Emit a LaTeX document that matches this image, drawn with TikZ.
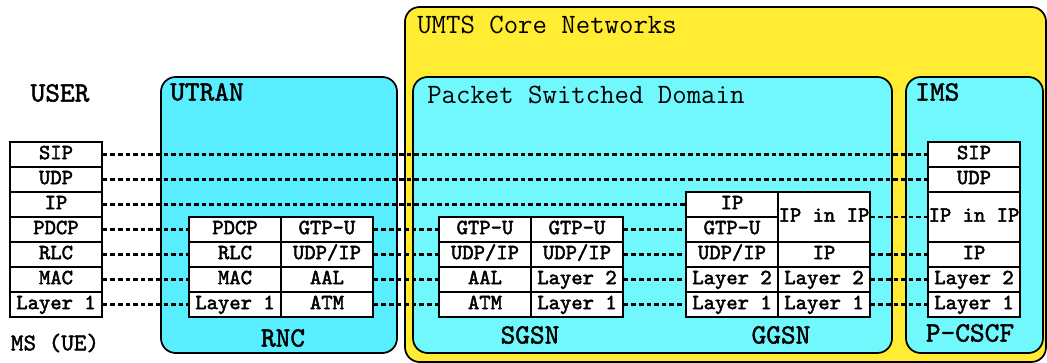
\documentclass[tikz,border=0pt]{standalone}
\usepackage{fontspec}
\usepackage{xcolor}
\usepackage{tikz}

\newfontfamily\stackfont{lmmono10-regular.otf}[FakeBold=2.2]
\newfontfamily\labelfont{lmmono10-regular.otf}[FakeBold=1.6]

\definecolor{umtsyellow}{RGB}{255,236,51}
\definecolor{utrancyan}{RGB}{88,238,255}
\definecolor{corecyan}{RGB}{112,248,252}

\begin{document}
\begin{tikzpicture}[
				x=0.75pt, y=-0.75pt,
				font=\ttfamily,
				region/.style={
					draw=black, line width=1.3pt, rounded corners=11pt
				},
				cell/.style={
					rectangle, draw=black, fill=white, line width=1.3pt,
					minimum width=69pt, minimum height=18.75pt, inner sep=0pt,
					text height=9.5pt, text depth=2.5pt,
					font=\fontsize{16.2}{17}\selectfont\stackfont
				},
				twocell/.style={cell, minimum height=37.5pt},
				title/.style={anchor=west, inner sep=0pt, font=\fontsize{21}{23}\selectfont\ttfamily},
				boxlbl/.style={title, font=\fontsize{21}{23}\selectfont\labelfont},
				nodelbl/.style={inner sep=0pt, font=\fontsize{21}{23}\selectfont\labelfont},
				link/.style={line width=1.7pt, dash pattern=on 3.4pt off 2.3pt}
				]
				\useasboundingbox (0,0) rectangle (1047,363);
				
				\draw[region, fill=umtsyellow] (405,7) rectangle (1046,362);
				\draw[region, fill=utrancyan] (161,77) rectangle (397,353);
				\draw[region, fill=corecyan] (413,77) rectangle (892,353);
				\draw[region, fill=corecyan] (906,77) rectangle (1043,353);
				
				\node[title] (umts) at (417,25) {UMTS Core Networks};
				\node[title] (psd) at (427,95) {Packet Switched Domain};
				\node[boxlbl] (utran) at (170,92) {UTRAN};
				\node[boxlbl] (ims) at (915,92) {IMS};
				\node[nodelbl] (user) at (60,93) {USER};
				
				\node[cell] (ms1) at (56,154.5) {SIP};
				\node[cell] (ms2) at (56,179.5) {UDP};
				\node[cell] (ms3) at (56,204.5) {IP};
				\node[cell] (ms4) at (56,229.5) {PDCP};
				\node[cell] (ms5) at (56,254.5) {RLC};
				\node[cell] (ms6) at (56,279.5) {MAC};
				\node[cell] (ms7) at (56,304.5) {Layer 1};
				\node[nodelbl, font=\fontsize{18}{19}\selectfont\labelfont] (ue) at (55,343) {MS (UE)};
				
				\node[cell] (rnl1) at (235,229.5) {PDCP};
				\node[cell] (rnl2) at (235,254.5) {RLC};
				\node[cell] (rnl3) at (235,279.5) {MAC};
				\node[cell] (rnl4) at (235,304.5) {Layer 1};
				\node[cell] (rnr1) at (327,229.5) {GTP-U};
				\node[cell] (rnr2) at (327,254.5) {UDP/IP};
				\node[cell] (rnr3) at (327,279.5) {AAL};
				\node[cell] (rnr4) at (327,304.5) {ATM};
				\node[nodelbl] (rnc) at (283,338) {RNC};
				
				\node[cell] (sgl1) at (485,229.5) {GTP-U};
				\node[cell] (sgl2) at (485,254.5) {UDP/IP};
				\node[cell] (sgl3) at (485,279.5) {AAL};
				\node[cell] (sgl4) at (485,304.5) {ATM};
				\node[cell] (sgr1) at (577,229.5) {GTP-U};
				\node[cell] (sgr2) at (577,254.5) {UDP/IP};
				\node[cell] (sgr3) at (577,279.5) {Layer 2};
				\node[cell] (sgr4) at (577,304.5) {Layer 1};
				\node[nodelbl] (sgsn) at (530,335) {SGSN};
				
				\node[cell] (ggl1) at (732,204.5) {IP};
				\node[cell] (ggl2) at (732,229.5) {GTP-U};
				\node[cell] (ggl3) at (732,254.5) {UDP/IP};
				\node[cell] (ggl4) at (732,279.5) {Layer 2};
				\node[cell] (ggl5) at (732,304.5) {Layer 1};
				\node[twocell] (ggr1) at (824,217) {IP in IP};
				\node[cell] (ggr2) at (824,254.5) {IP};
				\node[cell] (ggr3) at (824,279.5) {Layer 2};
				\node[cell] (ggr4) at (824,304.5) {Layer 1};
				\node[nodelbl] (ggsn) at (781,335) {GGSN};
				
				\node[cell] (pc1) at (974,154.5) {SIP};
				\node[cell] (pc2) at (974,179.5) {UDP};
				\node[twocell] (pc3) at (974,217) {IP in IP};
				\node[cell] (pc4) at (974,254.5) {IP};
				\node[cell] (pc5) at (974,279.5) {Layer 2};
				\node[cell] (pc6) at (974,304.5) {Layer 1};
				\node[nodelbl] (pcscf) at (970,333) {P-CSCF};
				
				\draw[link] (ms1.east) -- (pc1.west);
				\draw[link] (ms2.east) -- (pc2.west);
				\draw[link] (ms3.east) -- (ggl1.west);
				\draw[link] (ggr1.east) -- (pc3.west);
				
				\draw[link] (ms4.east) -- (rnl1.west);
				\draw[link] (rnr1.east) -- (sgl1.west);
				\draw[link] (sgr1.east) -- (ggl2.west);
				
				\draw[link] (ms5.east) -- (rnl2.west);
				\draw[link] (rnr2.east) -- (sgl2.west);
				\draw[link] (sgr2.east) -- (ggl3.west);
				\draw[link] (ggr2.east) -- (pc4.west);
				
				\draw[link] (ms6.east) -- (rnl3.west);
				\draw[link] (rnr3.east) -- (sgl3.west);
				\draw[link] (sgr3.east) -- (ggl4.west);
				\draw[link] (ggr3.east) -- (pc5.west);
				
				\draw[link] (ms7.east) -- (rnl4.west);
				\draw[link] (rnr4.east) -- (sgl4.west);
				\draw[link] (sgr4.east) -- (ggl5.west);
				\draw[link] (ggr4.east) -- (pc6.west);
\end{tikzpicture}
\end{document}
